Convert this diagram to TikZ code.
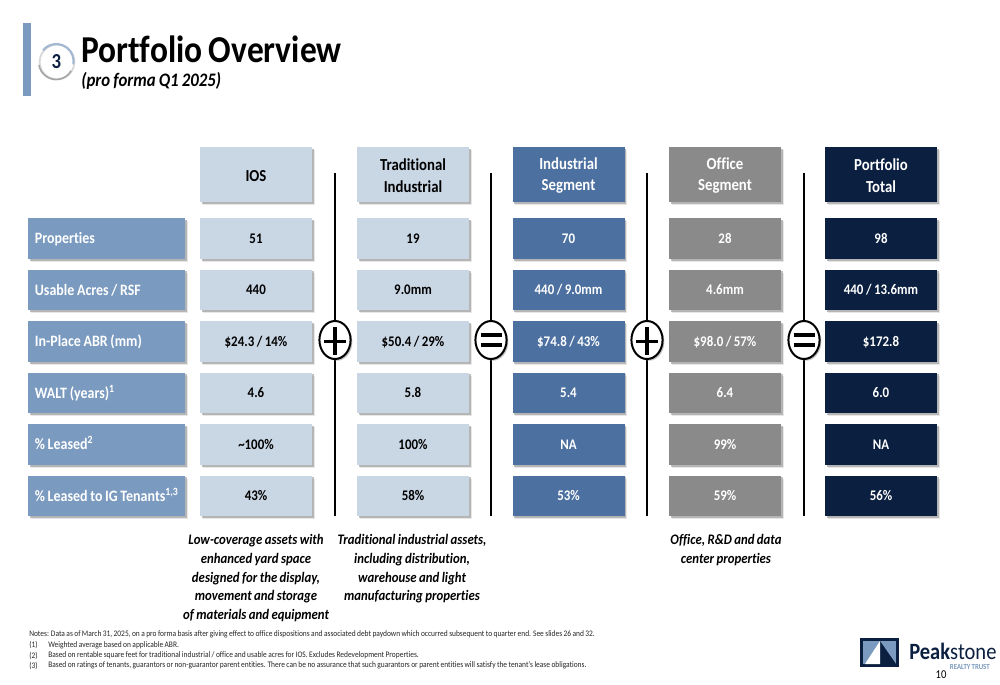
\documentclass[tikz,border=0pt]{standalone}
\usepackage{fontspec}
\setmainfont[FakeStretch=0.88,WordSpace=0.85,Ligatures={NoCommon,NoContextual}]{Carlito}
\usetikzlibrary{shadows,calc}
\definecolor{lblue}{HTML}{7A9ABF}
\definecolor{pale}{HTML}{C9D6E4}
\definecolor{midb}{HTML}{4C70A0}
\definecolor{greyc}{HTML}{8A8A8A}
\definecolor{navy}{HTML}{0B1F40}
\definecolor{barb}{HTML}{7A9ABF}
\newcommand{\hsp}{\rule{0pt}{10.5pt}}
\newcommand{\lbl}[1]{\makebox[107.5pt][l]{#1}}
\tikzset{
  cellbox/.style={draw=none,inner sep=0pt,align=center,font=\fontsize{11}{14}\selectfont\bfseries,
    drop shadow={shadow xshift=2.2pt,shadow yshift=-2.2pt,fill=black!30,opacity=.3},
    drop shadow={shadow xshift=1.3pt,shadow yshift=-1.3pt,fill=black!45,opacity=.55}},
  rowh/.style={minimum height=30.6pt,text height=9.3pt,text depth=2pt},
  headh/.style={minimum height=41.5pt,font=\fontsize{12.6}{16}\selectfont\bfseries},
  colw/.style={minimum width=84pt},
  ios/.style={cellbox,colw,fill=pale,text=black},
  ind/.style={cellbox,colw,fill=midb,text=white},
  off/.style={cellbox,colw,fill=greyc,text=white},
  tot/.style={cellbox,colw,fill=navy,text=white},
  rowlabel/.style={cellbox,rowh,minimum width=118pt,fill=lblue,text=white,
    text height=9.6pt,font=\fontsize{11.9}{14}\selectfont\bfseries},
  opcirc/.style={circle,draw=black,line width=1.5pt,fill=white,inner sep=0pt,
    minimum size=28.5pt,xscale=.82,
    drop shadow={shadow xshift=1.3pt,shadow yshift=-1.3pt,fill=black!50,opacity=.5}},
  sepline/.style={draw=black,line width=1.5pt},
  opbar/.style={line width=2.6pt},
  capt/.style={align=center,inner sep=0pt,font=\fontsize{10.9}{14}\selectfont\bfseries\itshape},
  noteline/.style={anchor=west,inner sep=0pt,font=\fontsize{6.34}{8}\selectfont,text=black!85},
}
\begin{document}
\begin{tikzpicture}[x=0.75pt,y=-0.75pt]
\useasboundingbox[fill=white] (0,0) rectangle (1000,685);
% header block
\fill[barb] (23,23) rectangle (31,96);
\node[circle,minimum size=26pt,inner sep=0pt,draw=black!15,line width=1.4pt,fill=white] (badge) at (57,62) {};
\draw[draw=lblue!70,line width=1.6pt] (badge.140) arc[start angle=140,end angle=-10,radius=13pt];
\draw[draw=black!35,line width=1.2pt] (badge.190) arc[start angle=190,end angle=330,radius=13pt];
\node[inner sep=0pt,text=navy,font=\fontsize{16}{16}\selectfont\bfseries] (badgenum) at (56.5,62) {3};
\node[anchor=west,inner sep=0pt,font=\fontsize{28.5}{28.5}\selectfont\bfseries] (title) at (81,49) {Portfolio Overview};
\node[anchor=west,inner sep=0pt,font=\fontsize{14.3}{15}\selectfont\bfseries\itshape] (subtitle) at (81,81) {(pro forma Q1 2025)};
% headers
\node[ios,headh] (h1) at (256,174.5) {\hsp IOS};
\node[ios,headh] (h2) at (413,174.5) {\hsp Traditional\\Industrial};
\node[ind,headh] (h3) at (568.5,174.5) {\hsp Industrial\\Segment};
\node[off,headh] (h4) at (725,174.5) {\hsp Office\\Segment};
\node[tot,headh] (h5) at (881,174.5) {\hsp Portfolio\\Total};
% row labels
\node[rowlabel] (r1) at (106.5,238.5) {\lbl{Properties}};
\node[rowlabel] (r2) at (106.5,290) {\lbl{Usable Acres / RSF}};
\node[rowlabel] (r3) at (106.5,341.5) {\lbl{In-Place ABR (mm)}};
\node[rowlabel] (r4) at (106.5,393) {\lbl{WALT (years)\textsuperscript{1}}};
\node[rowlabel] (r5) at (106.5,444.5) {\lbl{\% Leased\textsuperscript{2}}};
\node[rowlabel] (r6) at (106.5,496) {\lbl{\% Leased to IG Tenants\textsuperscript{1,3}}};
% IOS
\node[ios,rowh] (a1) at (256,238.5) {51};
\node[ios,rowh] (a2) at (256,290) {440};
\node[ios,rowh] (a3) at (256,341.5) {\$24.3 / 14\%};
\node[ios,rowh] (a4) at (256,393) {4.6};
\node[ios,rowh] (a5) at (256,444.5) {\textasciitilde100\%};
\node[ios,rowh] (a6) at (256,496) {43\%};
% Traditional
\node[ios,rowh] (b1) at (413,238.5) {19};
\node[ios,rowh] (b2) at (413,290) {9.0mm};
\node[ios,rowh] (b3) at (413,341.5) {\$50.4 / 29\%};
\node[ios,rowh] (b4) at (413,393) {5.8};
\node[ios,rowh] (b5) at (413,444.5) {100\%};
\node[ios,rowh] (b6) at (413,496) {58\%};
% Industrial
\node[ind,rowh] (c1) at (568.5,238.5) {70};
\node[ind,rowh] (c2) at (568.5,290) {440 / 9.0mm};
\node[ind,rowh] (c3) at (568.5,341.5) {\$74.8 / 43\%};
\node[ind,rowh] (c4) at (568.5,393) {5.4};
\node[ind,rowh] (c5) at (568.5,444.5) {NA};
\node[ind,rowh] (c6) at (568.5,496) {53\%};
% Office
\node[off,rowh] (d1) at (725,238.5) {28};
\node[off,rowh] (d2) at (725,290) {4.6mm};
\node[off,rowh] (d3) at (725,341.5) {\$98.0 / 57\%};
\node[off,rowh] (d4) at (725,393) {6.4};
\node[off,rowh] (d5) at (725,444.5) {99\%};
\node[off,rowh] (d6) at (725,496) {59\%};
% Total
\node[tot,rowh] (e1) at (881,238.5) {98};
\node[tot,rowh] (e2) at (881,290) {440 / 13.6mm};
\node[tot,rowh] (e3) at (881,341.5) {\$172.8};
\node[tot,rowh] (e4) at (881,393) {6.0};
\node[tot,rowh] (e5) at (881,444.5) {NA};
\node[tot,rowh] (e6) at (881,496) {56\%};
% separators
\foreach \n/\x in {s1/335,s2/491,s3/647,s4/804}{
  \coordinate (\n top) at (\x,173);
  \coordinate (\n bot) at (\x,516);
  \coordinate (\n mid) at (\x,340);
  \draw[sepline] (\n top) -- (\n bot);
  \node[opcirc] (\n c) at (\n mid) {};
}
\foreach \n in {s1,s3}{
  \draw[opbar] ($(\n mid)+(-11,1.5)$) -- ($(\n mid)+(11,1.5)$);
  \draw[opbar] ($(\n mid)+(0,-13)$) -- ($(\n mid)+(0,15)$);
}
\foreach \n in {s2,s4}{
  \draw[opbar] ($(\n mid)+(-10.5,-5)$) -- ($(\n mid)+(10.5,-5)$);
  \draw[opbar] ($(\n mid)+(-10.5,5)$) -- ($(\n mid)+(10.5,5)$);
}
% captions
\node[capt,anchor=north] (cap1) at (256,534.5) {Low-coverage assets with\\enhanced yard space\\designed for the display,\\movement and storage\\of materials and equipment};
\node[capt,anchor=north] (cap2) at (412,534.5) {Traditional industrial assets,\\including distribution,\\warehouse and light\\manufacturing properties};
\node[capt,anchor=north] (cap3) at (726,534) {Office, R\&D and data\\center properties};
% notes
\node[noteline] (n0) at (29,634) {Notes: Data as of March 31, 2025, on a pro forma basis after giving effect to office dispositions and associated debt paydown which occurred subsequent to quarter end. See slides 26 and 32.};
\node[noteline] (n1) at (29,645) {(1)};
\node[noteline] (n1t) at (48,645) {Weighted average based on applicable ABR.};
\node[noteline] (n2) at (29,655.5) {(2)};
\node[noteline] (n2t) at (48,655.5) {Based on rentable square feet for traditional industrial / office and usable acres for IOS. Excludes Redevelopment Properties.};
\node[noteline] (n3) at (29,665.5) {(3)};
\node[noteline] (n3t) at (48,665.5) {Based on ratings of tenants, guarantors or non-guarantor parent entities. There can be no assurance that such guarantors or parent entities will satisfy the tenant's lease obligations.};
% logo
\fill[navy] (860,638) rectangle (899,667);
\fill[lblue] (863,641) rectangle (896,664);
\fill[navy] (880,641) -- (896,664) -- (880,664) -- cycle;
\fill[white] (880,641) -- (880,664) -- (865,664) -- cycle;
\node[anchor=west,inner sep=0pt,text=navy,font=\fontsize{17.5}{17.5}\selectfont] (logo) at (909,651) {\textbf{Peak}stone};
\node[anchor=east,inner sep=0pt,text=lblue,font=\fontsize{5.8}{6}\selectfont\bfseries] (logosub) at (990,667) {REALTY TRUST};
\node[inner sep=0pt,font=\fontsize{9}{10}\selectfont] (page) at (941,675) {10};
\end{tikzpicture}
\end{document}
